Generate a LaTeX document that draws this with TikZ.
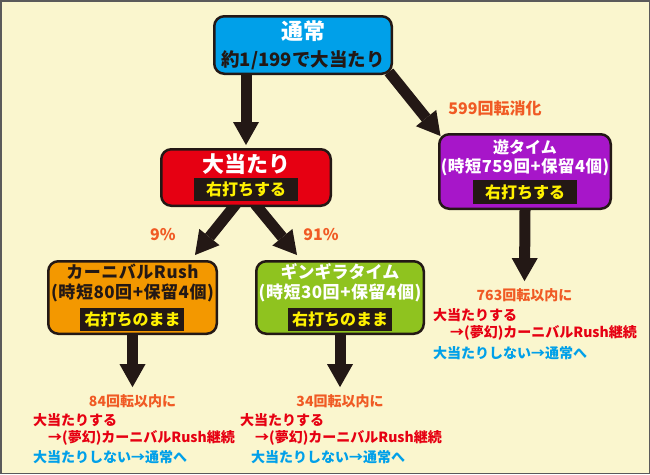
\documentclass[tikz,border=0pt]{standalone}
\usepackage{fontspec}
\setmainfont{Noto Sans CJK JP}
\usepackage{tikz}
\usetikzlibrary{arrows.meta, positioning, backgrounds}
\definecolor{paper}{RGB}{250,246,206}
\definecolor{frame}{RGB}{90,90,90}
\definecolor{ink}{RGB}{35,24,21}
\definecolor{normalblue}{RGB}{0,160,233}
\definecolor{hitred}{RGB}{230,0,18}
\definecolor{asobipurple}{RGB}{167,22,201}
\definecolor{carnivalorange}{RGB}{243,152,0}
\definecolor{gingiragreen}{RGB}{143,195,31}
\definecolor{tagyellow}{RGB}{255,241,0}
\definecolor{noteorange}{RGB}{240,90,36}
\definecolor{missblue}{RGB}{0,160,233}
\newcommand{\shotbar}[1]{{\setlength{\fboxsep}{4pt}\colorbox{ink}{\makebox[96pt]{\fontsize{16}{16}\selectfont\textcolor{tagyellow}{#1}}}}}
\newcommand{\loosetext}[1]{{\addfontfeatures{LetterSpace=3}#1}}
\pgfdeclarelayer{paperlayer}
\pgfsetlayers{paperlayer,background,main}
\tikzset{
  stage/.style={draw=ink, line width=2.5pt, rounded corners=10pt, align=center, inner sep=0pt},
  bigarrow/.style={draw=ink, line width=11pt, -{Triangle[length=23pt, width=26pt, line width=0pt]}},
  note/.style={font=\bfseries\fontsize{14}{17}\selectfont, inner sep=0pt},
}

\begin{document}
\begin{tikzpicture}[x=1pt, y=-1pt]
  \useasboundingbox (0,0) rectangle (650,474);
  \begin{pgfonlayer}{paperlayer}
    \fill[paper] (0,0) rectangle (650,474);
    \draw[frame, line width=1.5pt] (0.75,0.75) rectangle (649.25,473.25);
  \end{pgfonlayer}

  % modes
  \node[stage, fill=normalblue, minimum width=177.5pt, minimum height=57.5pt,
        font=\bfseries\fontsize{18.5}{26.6}\selectfont] (normal) at (303,45) {
    {\fontsize{22}{22}\selectfont\color{white}通常}\\
    \textcolor{ink}{約1/199で大当たり}
  };
  \node[stage, fill=hitred, minimum width=169.5pt, minimum height=56.5pt,
        font=\bfseries\fontsize{16}{22.6}\selectfont] (jackpot) at (246,177.5) {
    {\fontsize{22}{22}\selectfont\color{white}大当たり}\\
    \shotbar{右打ちする}
  };
  \node[stage, fill=asobipurple, minimum width=171.5pt, minimum height=74.5pt,
        font=\bfseries\fontsize{16.5}{19}\selectfont, text=white] (asobi) at (525,171.5) {
    {\fontsize{16}{16}\selectfont 遊タイム}\\
    \loosetext{(時短759回+保留4個)}\\[4pt]
    \shotbar{右打ちする}
  };
  \node[stage, fill=carnivalorange, minimum width=168.5pt, minimum height=72.5pt,
        font=\bfseries\fontsize{17}{20}\selectfont, text=ink] (carnival) at (132.5,297.5) {
    \loosetext{カーニバルRush}\\
    \loosetext{(時短80回+保留4個)}\\[5pt]
    \shotbar{右打ちのまま}
  };
  \node[stage, fill=gingiragreen, minimum width=167.5pt, minimum height=72.5pt,
        font=\bfseries\fontsize{17}{20}\selectfont, text=white] (gingira) at (340,297.5) {
    ギンギラタイム\\
    \loosetext{(時短30回+保留4個)}\\[5pt]
    \shotbar{右打ちのまま}
  };

  % labels on the arrows
  \node[note, noteorange, font=\bfseries\fontsize{16}{16}\selectfont] (spent) at (495,108) {599回転消化};
  \node[note, noteorange, font=\bfseries\fontsize{16}{16}\selectfont] (share9) at (163,235) {9\%};
  \node[note, noteorange, font=\bfseries\fontsize{16}{16}\selectfont] (share91) at (321,235) {91\%};

  % results
  \node[note, noteorange] (turn84) at (132.5,401) {84回転以内に};
  \node[note, hitred, anchor=west] (hit84) at (33,420) {大当たりする};
  \node[note, hitred, anchor=west] (keep84) at (48,438) {→(夢幻)カーニバルRush継続};
  \node[note, missblue, anchor=west] (miss84) at (33,457) {大当たりしない→通常へ};

  \node[note, noteorange] (turn34) at (340,401) {34回転以内に};
  \node[note, hitred, anchor=west] (hit34) at (240,420) {大当たりする};
  \node[note, hitred, anchor=west] (keep34) at (255,438) {→(夢幻)カーニバルRush継続};
  \node[note, missblue, anchor=west] (miss34) at (251,457) {大当たりしない→通常へ};

  \node[note, noteorange] (turn763) at (524.5,295) {763回転以内に};
  \node[note, hitred, anchor=west] (hit763) at (433,315) {大当たりする};
  \node[note, hitred, anchor=west] (keep763) at (450,333) {→(夢幻)カーニバルRush継続};
  \node[note, missblue, anchor=west] (miss763) at (433,353) {大当たりしない→通常へ};

  % arrows
  \begin{scope}[on background layer]
    \draw[bigarrow] (normal.south -| jackpot.north) -- ([yshift=3pt]jackpot.north);
    \draw[bigarrow] ([shift={(-4pt,3pt)}]normal.south east) -- ([shift={(2.5pt,-3pt)}]asobi.north west);
    \draw[bigarrow] ([shift={(-10pt,3pt)}]jackpot.south) -- ([shift={(-23pt,5pt)}]carnival.north east);
    \draw[bigarrow] ([shift={(9pt,3pt)}]jackpot.south) -- ([shift={(42pt,5pt)}]gingira.north west);
    \draw[bigarrow] (asobi.south) -- ([yshift=7pt]turn763.north);
    \draw[bigarrow] (carnival.south) -- ([yshift=7pt]turn84.north);
    \draw[bigarrow] (gingira.south) -- ([yshift=7pt]turn34.north);
  \end{scope}
\end{tikzpicture}
\end{document}
